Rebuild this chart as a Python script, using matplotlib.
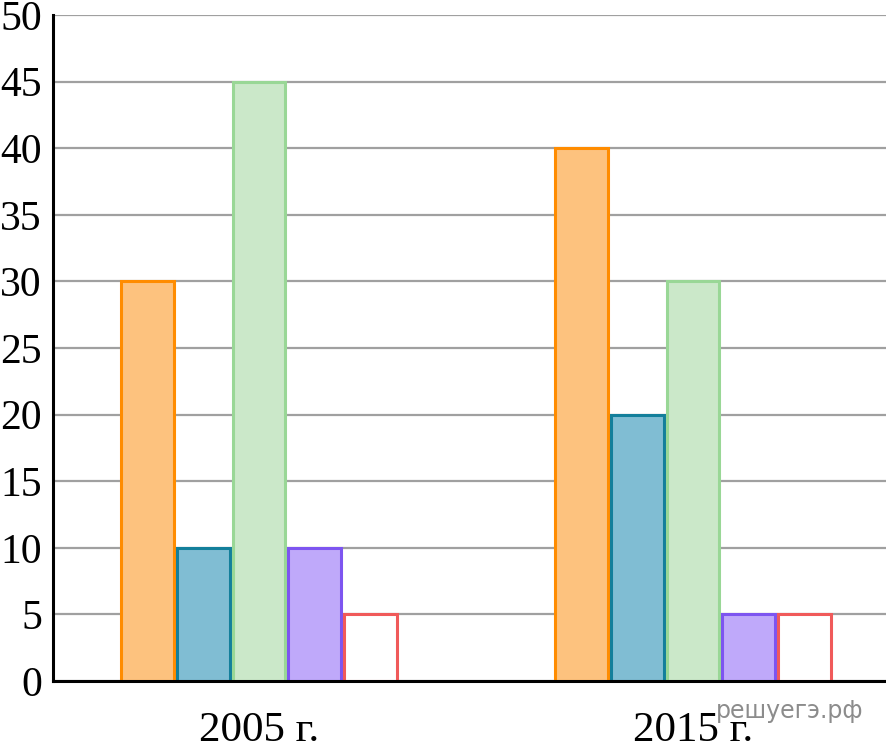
import matplotlib.pyplot as plt
import numpy as np

plt.rcParams['font.family'] = ['Liberation Serif', 'DejaVu Serif']

years = ["2005 г.", "2015 г."]
series_values = [
    [30, 40],
    [10, 20],
    [45, 30],
    [10, 5],
    [5, 5],
]
fill_colors = ["#fdc27e", "#80bdd3", "#cbe8c9", "#bfa9fa", "#ffffff"]
edge_colors = ["#ff8c00", "#137f9b", "#99d796", "#7d55f0", "#f05a5a"]
y_ticks = list(range(0, 51, 5))

fig = plt.figure(figsize=(8.86, 7.44), dpi=100)
ax = fig.add_axes([53 / 886, 63 / 744, 833 / 886, 666 / 744])

x = np.arange(len(years))
width = 0.122
step = 0.128
for i, vals in enumerate(series_values):
    ax.bar(x + (i - 2) * step, vals, width=width, color=fill_colors[i],
           edgecolor=edge_colors[i], linewidth=2.2, zorder=3)

ax.set_xlim(-0.4747, 1.4447)
ax.set_ylim(0, 50)
ax.set_yticks(y_ticks)
ax.set_xticks(x)
ax.set_xticklabels(years)
ax.yaxis.grid(True, color="#a0a0a0", linewidth=1.6, zorder=0)
ax.tick_params(axis="y", length=0, labelsize=30, pad=8)
ax.tick_params(axis="x", length=0, labelsize=31, pad=22)
for side in ["top", "right"]:
    ax.spines[side].set_visible(False)
for side in ["left", "bottom"]:
    ax.spines[side].set_linewidth(2.2)
    ax.spines[side].set_zorder(4)

fig.text(716 / 886, 1 - 711 / 744, "решуегэ.рф", family="DejaVu Sans",
         fontsize=17, color="#8c8c8c", va="center", ha="left")

plt.savefig("out.png")
